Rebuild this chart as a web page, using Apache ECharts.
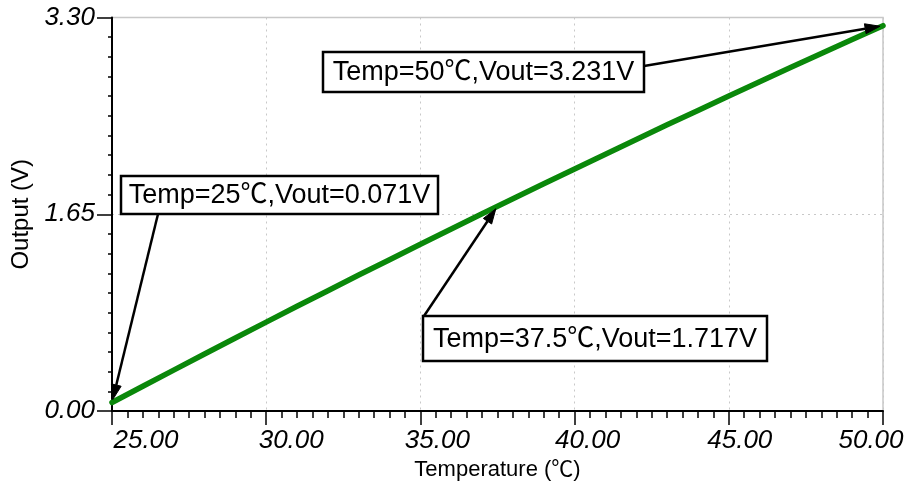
<!DOCTYPE html>
<html>
<head>
<meta charset="utf-8">
<script src="https://cdn.jsdelivr.net/npm/echarts@6/dist/echarts.min.js"></script>
<style>
html,body{margin:0;padding:0;background:#fff;}
#chart{width:910px;height:495px;}
</style>
</head>
<body>
<div id="chart"></div>
<script>
// ---- data ----
var temperature = [25, 26, 27, 28, 29, 30, 31, 32, 33, 34, 35, 36, 37, 37.5, 38, 39, 40, 41, 42, 43, 44, 45, 46, 47, 48, 49, 50];
var vout = [0.071, 0.208, 0.343, 0.478, 0.612, 0.745, 0.878, 1.009, 1.140, 1.269, 1.398, 1.527, 1.654, 1.717, 1.780, 1.906, 2.030, 2.154, 2.277, 2.400, 2.521, 2.642, 2.761, 2.880, 2.998, 3.115, 3.231];
var xTicks = [25, 30, 35, 40, 45, 50];
var yTicks = [0, 1.65, 3.30];
var annotations = [
  {text: 'Temp=25\u2103,Vout=0.071V', t: 25, v: 0.071},
  {text: 'Temp=50\u2103,Vout=3.231V', t: 50, v: 3.231},
  {text: 'Temp=37.5\u2103,Vout=1.717V', t: 37.5, v: 1.717}
];

// ---- layout (pixels) ----
var boxes = [
  {x: 121, y: 176, w: 317, h: 38, sx: 158, sy: 214},
  {x: 323, y: 52, w: 321, h: 40, sx: 644, sy: 66},
  {x: 423, y: 316, w: 344, h: 45, sx: 424, sy: 316}
];
// horizontal label offsets (px, center relative to tick)
var xLabelShift = {25: 34, 30: 25, 35: 17, 40: 13, 45: 11, 50: -12};

var FONT = '"Liberation Sans", Arial, "Noto Sans CJK SC", sans-serif';
var chart = echarts.init(document.getElementById('chart'), null, {renderer: 'canvas'});

var rich = {};
xTicks.forEach(function (t, i) {
  var d = xLabelShift[t];
  rich['l' + i] = {
    fontFamily: FONT, fontStyle: 'italic', fontSize: 26, color: '#000',
    padding: d >= 0 ? [0, 0, 0, 2 * d] : [0, -2 * d, 0, 0]
  };
});

var option = {
  animation: false,
  backgroundColor: '#fff',
  grid: {left: 112, right: 27, top: 17.5, bottom: 84, show: true, borderColor: '#c8c8c8', borderWidth: 1.5, containLabel: false},
  xAxis: {
    type: 'value', min: 25, max: 50, interval: 5,
    name: 'Temperature (\u2103)', nameLocation: 'middle', nameGap: 47,
    nameTextStyle: {fontFamily: FONT, fontSize: 22, color: '#000'},
    axisLine: {show: true, onZero: false, lineStyle: {color: '#000', width: 2}},
    axisTick: {show: true, inside: false, length: 14, lineStyle: {color: '#000', width: 1.5}},
    minorTick: {show: true, splitNumber: 10, length: 7, lineStyle: {color: '#000', width: 1.5}},
    axisLabel: {
      margin: 17, showMinLabel: true, showMaxLabel: true, hideOverlap: false,
      formatter: function (v) { var i = xTicks.indexOf(v); return '{l' + i + '|' + v.toFixed(2) + '}'; },
      rich: rich
    },
    splitLine: {show: true, lineStyle: {color: '#c8c8c8', type: [2, 4], width: 1}}
  },
  yAxis: {
    type: 'value', min: 0, max: 3.3, interval: 1.65,
    name: 'Output (V)', nameLocation: 'middle', nameGap: 76,
    nameTextStyle: {fontFamily: FONT, fontSize: 24, color: '#000'},
    axisLine: {show: true, onZero: false, lineStyle: {color: '#000', width: 2}},
    axisTick: {show: true, inside: false, length: 15, lineStyle: {color: '#000', width: 1.5}},
    minorTick: {show: true, splitNumber: 10, length: 4, lineStyle: {color: '#000', width: 1.5}},
    axisLabel: {
      margin: 17, fontFamily: FONT, fontStyle: 'italic', fontSize: 26, color: '#000',
      showMinLabel: true, showMaxLabel: true,
      formatter: function (v) { return v.toFixed(2); }
    },
    splitLine: {show: true, lineStyle: {color: '#c8c8c8', type: [2, 4], width: 1}}
  },
  series: [{
    type: 'line',
    data: temperature.map(function (t, i) { return [t, vout[i]]; }),
    showSymbol: false, symbol: 'none',
    lineStyle: {color: '#0a880a', width: 5.5, cap: 'round', join: 'round'},
    z: 3
  }]
};
chart.setOption(option);

// annotations: boxes + arrows to data points
var g = [];
annotations.forEach(function (a, i) {
  var b = boxes[i];
  var p = chart.convertToPixel({gridIndex: 0}, [a.t, a.v]);
  var dx = p[0] - b.sx, dy = p[1] - b.sy;
  var L = Math.sqrt(dx * dx + dy * dy);
  var ux = dx / L, uy = dy / L;
  var tipX = p[0] - ux * 3, tipY = p[1] - uy * 3;
  var headLen = 15, headW = 5;
  var bx = tipX - ux * headLen, by = tipY - uy * headLen;
  g.push({
    type: 'line', z: 10,
    shape: {x1: b.sx, y1: b.sy, x2: bx, y2: by},
    style: {stroke: '#000', lineWidth: 2.5}
  });
  g.push({
    type: 'polygon', z: 10,
    shape: {points: [[tipX, tipY], [bx - uy * headW, by + ux * headW], [bx + uy * headW, by - ux * headW]]},
    style: {fill: '#000', stroke: '#000', lineWidth: 1}
  });
  g.push({
    type: 'rect', z: 11,
    shape: {x: b.x, y: b.y, width: b.w, height: b.h},
    style: {fill: '#fff', stroke: '#000', lineWidth: 2.5}
  });
  g.push({
    type: 'text', z: 12,
    x: b.x + b.w / 2, y: b.y + b.h / 2 + 1,
    style: {text: a.text, fontFamily: FONT, fontSize: 27, fill: '#000', align: 'center', verticalAlign: 'middle'}
  });
});
chart.setOption({graphic: g});
</script>
</body>
</html>
